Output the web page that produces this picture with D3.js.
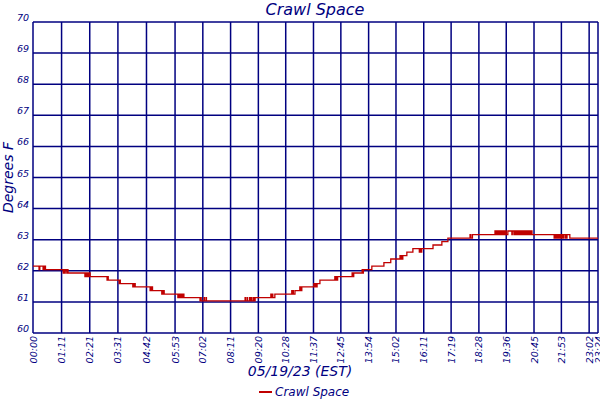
<!DOCTYPE html>
<html lang="en">
	<head>
		<meta charset="utf-8">
		<title>Crawl Space</title>
		<script type="text/javascript" src="https://cdn.jsdelivr.net/npm/d3@7"></script>
		<style type="text/css">
			body { margin: 0; background: #fff; }
			text { font-family: "DejaVu Sans", sans-serif; font-style: italic; fill: #000080; }
		</style>
	</head>
	<body>
		<script type="text/javascript">

            var w = 600;
            var h = 400;

            // readings (time of change, degrees F)
            var times = [
                "00:00","00:15","00:17","00:25","00:26","00:28","00:29","00:31",
                "01:15","01:16","01:18","01:20","01:24","01:26","01:27",
                "02:09","02:10","02:12","02:14","02:16","02:18","02:20","02:21","02:22",
                "03:04","03:05","03:07","03:34","03:35","03:37",
                "04:08","04:09","04:11","04:12","04:14",
                "04:51","04:52","04:54","04:55","04:57",
                "05:20","05:21","05:23","05:24","05:26",
                "06:00","06:01","06:03","06:04","06:06","06:07","06:09","06:10","06:12","06:13","06:15",
                "06:55","06:56","06:58","07:05","07:06","07:10","07:11",
                "08:47","08:48","08:52","08:53","08:58","08:59","09:02","09:04","09:08","09:09","09:12",
                "09:51","09:52","09:55","09:56","10:01",
                "10:43","10:44","10:46","10:47","10:51",
                "11:03","11:04","11:06","11:07","11:08",
                "11:38","11:40","11:42","11:44","11:46","11:53",
                "12:30","12:31","12:33","12:34","12:37",
                "13:13","13:14","13:17","13:38","13:39","13:41",
                "14:02","14:32","14:49",
                "15:12","15:13","15:15","15:17","15:19","15:29","15:44",
                "16:00","16:02","16:04","16:06","16:34","16:56","17:11",
                "18:06","18:08","18:12",
                "19:08","19:09","19:10","19:11","19:13","19:14","19:15","19:17","19:18","19:19",
                "19:21","19:22","19:24","19:25","19:27","19:29","19:31","19:32","19:34","19:36",
                "19:40","19:50","19:51","19:55","19:57","19:58","20:00",
                "20:03","20:05","20:06","20:08","20:10","20:12","20:13","20:15","20:17","20:19",
                "20:20","20:22","20:24","20:26","20:27","20:29","20:31","20:33","20:35","20:37","20:40",
                "21:35","21:36","21:38","21:39","21:42","21:43","21:45","21:47","21:49","21:50",
                "21:53","21:54","21:57","21:58","22:02","22:03","22:06","22:07","22:14",
                "23:24"
            ];
            var temps = [
                62.15,62.04,62.15,62.04,62.15,62.04,62.15,62.04,
                61.93,62.04,61.93,62.04,61.93,62.04,61.93,
                61.81,61.93,61.81,61.93,61.81,61.93,61.81,61.93,61.81,
                61.70,61.81,61.70,61.59,61.70,61.59,
                61.48,61.59,61.48,61.59,61.48,
                61.36,61.48,61.36,61.48,61.36,
                61.25,61.36,61.25,61.36,61.25,
                61.14,61.25,61.14,61.25,61.14,61.25,61.14,61.25,61.14,61.25,61.14,
                61.03,61.14,61.03,61.14,61.03,61.14,61.03,
                61.14,61.03,61.14,61.03,61.14,61.03,61.14,61.03,61.14,61.03,61.14,
                61.25,61.14,61.25,61.14,61.25,
                61.36,61.25,61.36,61.25,61.36,
                61.48,61.36,61.48,61.36,61.48,
                61.59,61.48,61.59,61.48,61.59,61.70,
                61.81,61.70,61.81,61.70,61.81,
                61.93,61.81,61.93,62.04,61.93,62.04,
                62.15,62.26,62.38,
                62.49,62.38,62.49,62.38,62.49,62.60,62.71,
                62.60,62.71,62.60,62.71,62.83,62.94,63.05,
                63.16,63.05,63.16,
                63.28,63.16,63.28,63.16,63.28,63.16,63.28,63.16,63.28,63.16,
                63.28,63.16,63.28,63.16,63.28,63.16,63.28,63.16,63.28,63.16,
                63.28,63.16,63.28,63.16,63.28,63.16,63.28,
                63.16,63.28,63.16,63.28,63.16,63.28,63.16,63.28,63.16,63.28,
                63.16,63.28,63.16,63.28,63.16,63.28,63.16,63.28,63.16,63.28,63.16,
                63.05,63.16,63.05,63.16,63.05,63.16,63.05,63.16,63.05,63.16,
                63.05,63.16,63.05,63.16,63.05,63.16,63.05,63.16,63.05,
                63.05
            ];

            var tickLabels = ["00:00","01:11","02:21","03:31","04:42","05:53","07:02","08:11","09:20","10:28",
                              "11:37","12:45","13:54","15:02","16:11","17:19","18:28","19:36","20:45","21:53",
                              "23:02","23:24"];
            var yTicks = [60,61,62,63,64,65,66,67,68,69,70];

            var toMin = function(s){
                var p = s.split(":");
                return (+p[0])*60 + (+p[1]);
            };

            var data = times.map(function(t,i){ return {m: toMin(t), v: temps[i]}; });

            var padL = 33, padR = 598, padT = 22, padB = 333;

            var x = d3.scaleLinear().domain([0, toMin("23:24")]).range([padL, padR]);
            var y = d3.scaleLinear().domain([60, 70]).range([padB, padT]);

            var svg = d3.select("body").append("svg")
                        .attr("width", w)
                        .attr("height", h);

            var navy = "#000080";

            // horizontal grid
            svg.selectAll("line.hg")
                .data(yTicks)
                .enter()
                .append("line")
                .attr("x1", padL).attr("x2", padR)
                .attr("y1", function(d){ return y(d); })
                .attr("y2", function(d){ return y(d); })
                .attr("stroke", navy)
                .attr("stroke-width", 1.5);

            // vertical grid
            svg.selectAll("line.vg")
                .data(tickLabels)
                .enter()
                .append("line")
                .attr("x1", function(d){ return x(toMin(d)); })
                .attr("x2", function(d){ return x(toMin(d)); })
                .attr("y1", padT).attr("y2", padB)
                .attr("stroke", navy)
                .attr("stroke-width", 1.5);

            // y labels
            svg.selectAll("text.yl")
                .data(yTicks)
                .enter()
                .append("text")
                .attr("x", 29)
                .attr("y", function(d){ return y(d) - 1; })
                .attr("text-anchor", "end")
                .attr("font-size", "9.5px")
                .text(function(d){ return d; });

            // x labels
            svg.selectAll("text.xl")
                .data(tickLabels)
                .enter()
                .append("text")
                .attr("transform", function(d){
                    return "translate(" + (x(toMin(d)) + 3.5) + "," + (padB + 3) + ") rotate(-90)";
                })
                .attr("text-anchor", "end")
                .attr("font-size", "9.5px")
                .text(function(d){ return d; });

            // the reading line
            var line = d3.line()
                        .x(function(d){ return x(d.m); })
                        .y(function(d){ return y(d.v); })
                        .curve(d3.curveStepAfter);

            svg.append("path")
                .datum(data)
                .attr("fill", "none")
                .attr("stroke", "#c00000")
                .attr("stroke-width", 1.3)
                .attr("d", line);

            // titles
            svg.append("text")
                .attr("x", 315).attr("y", 15)
                .attr("text-anchor", "middle")
                .attr("font-size", "16px")
                .text("Crawl Space");

            svg.append("text")
                .attr("transform", "translate(13," + ((padT + padB)/2) + ") rotate(-90)")
                .attr("text-anchor", "middle")
                .attr("font-size", "14px")
                .text("Degrees F");

            svg.append("text")
                .attr("x", 300).attr("y", 376)
                .attr("text-anchor", "middle")
                .attr("font-size", "14px")
                .text("05/19/23 (EST)");

            // legend
            svg.append("line")
                .attr("x1", 259).attr("x2", 272)
                .attr("y1", 392).attr("y2", 392)
                .attr("stroke", "#c00000").attr("stroke-width", 2);

            svg.append("text")
                .attr("x", 275).attr("y", 396)
                .attr("font-size", "12px")
                .text("Crawl Space");

		</script>
	</body>
</html>
